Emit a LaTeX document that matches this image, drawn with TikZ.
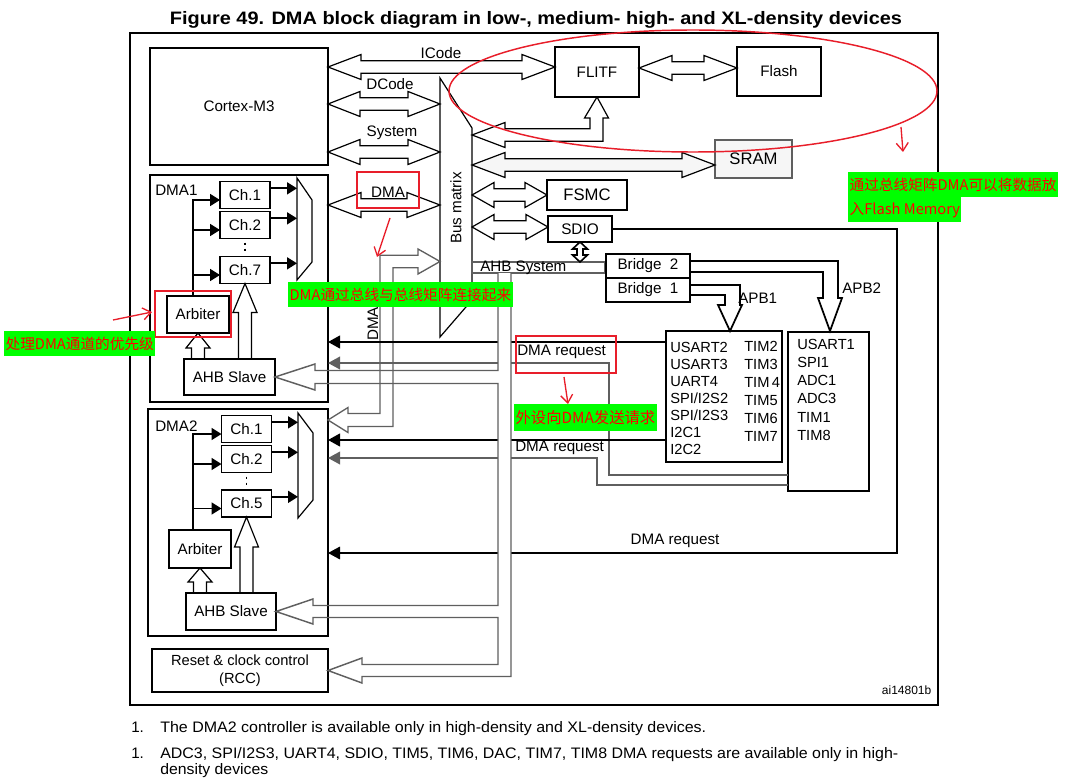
\documentclass[tikz,border=0pt]{standalone}
\usepackage{fontspec}
\setmainfont{Liberation Sans}
\newfontfamily\cjk{Noto Sans CJK SC}
\usepackage{graphicx}
\usepackage{xcolor}
\usepackage{tikz}
\usetikzlibrary{arrows.meta, positioning, calc}
\definecolor{hlgreen}{RGB}{0,255,0}
\definecolor{penred}{RGB}{232,30,42}
\definecolor{wire}{RGB}{95,95,95}
\definecolor{sramgray}{RGB}{246,246,246}
\tikzstyle{every node} = [font=\fontsize{11.4}{13.5}\selectfont]
\tikzstyle{block} = [rectangle, draw=black, line width=1.3pt, inner sep=0pt, outer sep=0pt, align=center]
\tikzstyle{chan} = [block, minimum width=37.5pt, minimum height=20.25pt]
\tikzstyle{bus} = [draw=black, line width=0.9pt, line join=miter]
\tikzstyle{ahbbus} = [draw=wire, line width=1.1pt, line join=miter]
\tikzstyle{link} = [draw=black, line width=1.3pt, -{Triangle[length=7.5pt, width=9pt]}]
\tikzstyle{req} = [draw=black, line width=1.6pt, -{Triangle[length=9pt, width=9.5pt]}]
\tikzstyle{reqthin} = [draw=wire, line width=1.1pt, -{Triangle[length=9pt, width=9.5pt]}]
\tikzstyle{hint} = [fill=hlgreen, text=red, font=\cjk\fontsize{11}{12}\selectfont, inner xsep=1pt, inner ysep=0pt, minimum height=18.75pt, anchor=north west]
\tikzstyle{redbox} = [draw=penred, line width=1.1pt]
\tikzstyle{redarrow} = [draw=penred, line width=1pt, -{Straight Barb[length=6pt, width=9pt]}]

% double-headed bus from the x of #2 to the x of #3, at height #4
\newcommand{\dbus}[4][33]{%
  \draw[bus] let \p1=(#2), \p2=(#3), \n1={scalar((\x2-\x1)/0.75)} in
    (\x1,-#4*0.75pt) -- ++(#1,-12.5) -- ++(0,6.25) -- ++({\n1-2*#1},0) -- ++(0,-6.25)
    -- ++(#1,12.5) -- ++(-#1,12.5) -- ++(0,-6.25) -- ++({2*#1-\n1},0) -- ++(0,6.25) -- cycle;}
% upward bus from the top of #1 into the bottom of #2
\newcommand{\ubus}[3]{%
  \draw[bus] let \p1=(#2 |- #1.north), \p2=(#2), \n1={scalar((\y2-\y1)/0.75)} in
    (\x1,\y1) ++(-6.5,0) -- ++(0,{#3-\n1}) -- ++(-5.5,0) -- ++(12,-#3) -- ++(12,#3)
    -- ++(-5.5,0) -- ++(0,{\n1-#3});}

\begin{document}
\begin{tikzpicture}[x=0.75pt, y=-0.75pt]
	\useasboundingbox (0,0) rectangle (1067,781);
	\node (title) at (536,20) {\resizebox{549pt}{\height}{\fontsize{13.5}{16}\selectfont\bfseries Figure 49. DMA block diagram in low-, medium- high- and XL-density devices}};
	\draw[line width=0.8pt] (130,33) rectangle (938,705);

	% core, memories and bus matrix
	\node (cortex)[block, minimum width=133.5pt, minimum height=87.75pt] at (239,106.5) {Cortex-M3};
	\node (flitf)[block, minimum width=63pt, minimum height=37.5pt] at (597,72) {FLITF};
	\node (flash)[block, minimum width=63pt, minimum height=36.75pt] at (779,71.5) {Flash};
	\node (sram)[block, draw=wire, line width=1pt, fill=sramgray, minimum width=57.75pt, minimum height=28.5pt, font=\fontsize{12.5}{14}\selectfont] at (753.5,159) {SRAM};
	\node (fsmc)[block, minimum width=60pt, minimum height=22.5pt, font=\fontsize{12.5}{14}\selectfont] at (587,195) {FSMC};
	\node (sdio)[block, minimum width=48pt, minimum height=19.5pt, font=\fontsize{11.5}{13}\selectfont] at (580,229) {SDIO};
	\coordinate (bm-nw) at (440,78);
	\coordinate (bm-ne) at (472,128);
	\coordinate (bm-se) at (472,300);
	\coordinate (bm-sw) at (440,337);
	\draw[bus] (bm-nw) -- (bm-ne) -- (bm-se) -- (bm-sw) -- cycle;
	\node (busmatrix)[rotate=90] at (456,208) {Bus matrix};

	\dbus{cortex.east}{flitf.west}{67}
	\dbus[32]{cortex.east}{bm-nw}{104}
	\dbus[32]{cortex.east}{bm-nw}{152}
	\dbus{flitf.east}{flash.west}{68}
	\begin{scope}[bus/.append style={fill=sramgray}]
		\dbus{bm-se}{sram.west}{165}
	\end{scope}
	\dbus[22]{bm-se}{fsmc.west}{195}
	\dbus[22]{bm-se}{sdio.west}{227}
	\draw[bus] (472,135) -- (505,122.5) -- (505,128.75) -- (590,128.75) -- (590,118) -- (584.5,118) -- (flitf.south) -- (608.5,118) -- (603,118) -- (603,141.25) -- (505,141.25) -- (505,147.5) -- cycle;
	\node (icode) at (441,53) {ICode};
	\node (dcode) at (390,84) {DCode};
	\node (system) at (392,133) {System};

	% AHB system, bridges and peripherals
	\node (ahbsys)[rectangle, draw=wire, line width=1pt, inner sep=0pt, minimum width=99.75pt, minimum height=8.25pt] at (538.5,267.5) {};
	\node (ahblabel)[anchor=west, inner sep=0pt] at (480,268) {AHB System};
	\draw[line width=1.2pt, line join=miter] (sdio.south) -- ++(7.5,7) -- ++(-4.5,0) -- ++(0,6) -- ++(4.5,0) -- ++(-7.5,7) -- ++(-7.5,-7) -- ++(4.5,0) -- ++(0,-6) -- ++(-4.5,0) -- cycle;
	\node (bridge2)[block, minimum width=63pt, minimum height=18pt] at (648,266) {Bridge\ \ 2};
	\node (bridge1)[block, minimum width=63pt, minimum height=18pt, below=0pt of bridge2] {Bridge\ \ 1};
	\node (apb1dev)[block, minimum width=87pt, minimum height=98.25pt] at (724,396.5) {};
	\node (apb2dev)[block, minimum width=60.75pt, minimum height=119.25pt] at (828.5,411.5) {};
	\node (apb1list)[anchor=north west, align=left, inner sep=0pt, font=\fontsize{11}{12.75}\selectfont] at (670,342) {USART2\\USART3\\UART4\\SPI/I2S2\\SPI/I2S3\\I2C1\\I2C2};
	\node (apb1tim)[anchor=north west, align=left, inner sep=0pt, font=\fontsize{11}{13.5}\selectfont] at (744,341) {TIM2\\TIM3\\TIM\,4\\TIM5\\TIM6\\TIM7};
	\node (apb2list)[anchor=north west, align=left, inner sep=0pt, font=\fontsize{11}{13.6}\selectfont] at (797,339) {USART1\\SPI1\\ADC1\\ADC3\\TIM1\\TIM8};
	\draw[line width=1.3pt, line join=miter] (690,285) -- (740,285) -- (740,305) -- (742,305) -- (730,331) -- (718,305) -- (725,305) -- (725,295) -- (690,295);
	\draw[line width=1.3pt, line join=miter] (690,261) -- (838,261) -- (838,298) -- (842,298) -- (830,331) -- (818,298) -- (823,298) -- (823,272) -- (690,272);
	\node (apb1)[anchor=west, inner sep=0pt] at (738,298) {APB1};
	\node (apb2)[anchor=west, inner sep=0pt] at (842,288) {APB2};

	% DMA1
	\node (dma1)[block, minimum width=133.5pt, minimum height=170.25pt] at (239,288.5) {};
	\node (dma1label)[anchor=west, inner sep=0pt] at (155,190) {DMA1};
	\node (ch1a)[chan] at (245,195) {Ch.1};
	\node (ch2a)[chan, below=2.25pt of ch1a] {Ch.2};
	\node (ch7a)[chan] at (245,270) {Ch.7};
	\node (arb1)[block, minimum width=46.5pt, minimum height=27.75pt] at (198,314.5) {Arbiter};
	\node (slave1)[block, minimum width=68.25pt, minimum height=27pt] at (229.5,377) {AHB Slave};
	\draw[bus] (297,178) -- (312,200) -- (312,262) -- (297,280) -- cycle;
	\foreach \c in {ch1a,ch2a,ch7a}{
		\draw[link] ([yshift=5pt]\c.east) -- ++(27,0);
		\draw[link] ([xshift=-3.75pt]arb1.north) |- ([yshift=-3.75pt]\c.west);
	}
	\draw[line width=1.3pt, dash pattern=on 2pt off 2.5pt, shorten <=3pt, shorten >=2pt] (ch2a.south) -- (ch7a.north);
	\ubus{slave1}{arb1.south}{15}
	\ubus{slave1}{ch7a.south}{29}
	\dbus{dma1.east}{bm-nw}{205}
	\node (dmaport) at (388,192) {DMA};

	% DMA2
	\node (dma2)[block, minimum width=135pt, minimum height=170.25pt] at (238,522.5) {};
	\node (dma2label)[anchor=west, inner sep=0pt] at (155,426) {DMA2};
	\node (ch1b)[chan] at (246.5,429) {Ch.1};
	\node (ch2b)[chan, below=2.25pt of ch1b] {Ch.2};
	\node (ch5b)[chan] at (246.5,503.5) {Ch.5};
	\node (arb2)[block, minimum width=46.5pt, minimum height=28.5pt] at (200,549) {Arbiter};
	\node (slave2)[block, minimum width=67.5pt, minimum height=27.75pt] at (231,611.5) {AHB Slave};
	\draw[bus] (298,413) -- (313,433) -- (313,500) -- (298,518) -- cycle;
	\foreach \c in {ch1b,ch2b,ch5b}{
		\draw[link] ([yshift=5pt]\c.east) -- ++(26.5,0);
		\draw[link] ([xshift=-5.25pt]arb2.north) |- ([yshift=-3.75pt]\c.west);
	}
	\draw[line width=1.3pt, dash pattern=on 2pt off 2.5pt, shorten <=3pt, shorten >=2pt] (ch2b.south) -- (ch5b.north);
	\ubus{slave2}{arb2.south}{14}
	\ubus{slave2}{ch5b.south}{30}
	\draw[ahbbus, line width=1pt] (440,261.5) -- (418,249) -- (418,255.25) -- (380,255.25) -- (380,413.5) -- (348,413.5) -- (348,407.5) -- (dma2.east |- 0,420) -- (348,432.5) -- (348,426.5) -- (393,426.5) -- (393,267.75) -- (418,267.75) -- (418,274) -- cycle;
	\node (dmabus)[rotate=90] at (373,324) {DMA};
	\node (rcc)[block, line width=1pt, minimum width=132pt, minimum height=32.25pt, font=\fontsize{11}{13.5}\selectfont] at (240,670.5) {Reset \& clock control\\(RCC)};

	% DMA requests
	\coordinate (rq1) at (666,342);
	\coordinate (rq2) at (788,475);
	\coordinate (rq3) at (666,440);
	\coordinate (rq4) at (788,485);
	\draw[req] (rq1) -- (rq1 -| dma1.east);
	\draw[reqthin] (rq2) -- (609,475) -- (609,363) -- (328,363);
	\draw[req] (rq3) -- (rq3 -| dma2.east);
	\draw[reqthin] (rq4) -- (597,485) -- (597,458) -- (328,458);
	\draw[reqthin, draw=black, line width=0.9pt] (sdio.east) -| (897,553) -- (328,553);
	\node (dmareq1)[anchor=west, inner sep=0pt] at (517,352) {DMA request};
	\node (dmareq2)[anchor=west, inner sep=0pt] at (515,448) {DMA request};
	\node (dmareq3) at (675,541) {DMA request};

	% AHB slave bus
	\fill[white] (498,273) rectangle (511,676.5);
	\draw[ahbbus] (498,273) -- (498,370.5) -- (315,370.5) -- (315,364) -- (slave1.east) -- (315,390) -- (315,383.5) -- (498,383.5) -- (498,605.5) -- (313,605.5) -- (313,599) -- (slave2.east) -- (313,624) -- (313,617.5) -- (498,617.5) -- (498,664.5) -- (362,664.5) -- (362,658) -- (rcc.east) -- (362,683) -- (362,676.5) -- (511,676.5) -- (511,273);

	\node (ref)[anchor=east, font=\fontsize{9}{11}\selectfont] at (936,690) {ai14801b};

	% notes below
	\node (fn1n)[anchor=base west, inner sep=0pt] at (131,732) {1.};
	\node (fn1)[anchor=base west, inner sep=0pt] at (160,732) {\resizebox{409.5pt}{\height}{The DMA2 controller is available only in high-density and XL-density devices.}};
	\node (fn2n)[anchor=base west, inner sep=0pt] at (131,758) {1.};
	\node (fn2)[anchor=base west, inner sep=0pt] at (160,758) {\resizebox{553.5pt}{\height}{ADC3, SPI/I2S3, UART4, SDIO, TIM5, TIM6, DAC, TIM7, TIM8 DMA requests are available only in high-}};
	\node (fn3)[anchor=base west, inner sep=0pt] at (160,774) {\resizebox{81pt}{\height}{density devices}};

	% red marks
	\draw[penred, line width=1.1pt] (693,91) ellipse [x radius=244, y radius=61];
	\draw[redarrow] (901,127) -- (903,152);
	\node (flashnote1)[hint] at (848,172) {通过总线矩阵DMA可以将数据放};
	\node (flashnote2)[hint] at (848,197) {入Flash Memory};
	\draw[redbox] (357,172) rectangle (419,208);
	\draw[redarrow] (390,218) -- (377,257);
	\node (dmanote)[hint] at (288,282) {DMA通过总线与总线矩阵连接起来};
	\draw[redbox] (155,291) rectangle (231,337);
	\draw[redarrow] (113,320) -- (152,312);
	\node (arbnote)[hint] at (4,331) {处理DMA通道的优先级};
	\draw[redbox] (516,336) rectangle (616,373);
	\draw[redarrow] (564,377) -- (568,404);
	\node (reqnote)[hint, minimum height=20.25pt, font=\cjk\fontsize{11.5}{13}\selectfont] at (514,404) {外设向DMA发送请求};
\end{tikzpicture}
\end{document}
